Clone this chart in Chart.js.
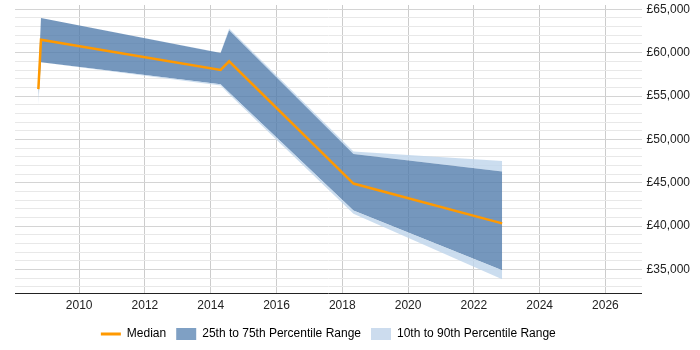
<!DOCTYPE html>
<html>
<head>
<meta charset="utf-8">
<script src="https://cdn.jsdelivr.net/npm/chart.js@4/dist/chart.umd.min.js"></script>
<style>
    html, body { margin: 0; padding: 0; background: #ffffff; }
    #wrap { width: 700px; height: 350px; position: relative; }
</style>
</head>
<body>
<div id="wrap"><canvas id="salary-chart"></canvas></div>
<script>
// Salary percentiles over time
const years = [2008.76, 2008.84, 2014.30, 2014.56, 2018.34, 2022.86];
const median = [55800, 61500, 58000, 59000, 44900, 40300];
const p25 = [54800, 58900, 56350, 55400, 41800, 34900];
const p75 = [57000, 64000, 59950, 62600, 48300, 46300];
const p10 = [54000, 58900, 56200, 55200, 41400, 33850];
const p90 = [57300, 64000, 60000, 62800, 48600, 47500];

// Axis ticks
const xTicks = [2010, 2012, 2014, 2016, 2018, 2020, 2022, 2024, 2026];
const yGridValues = [];
for (let v = 33000; v <= 65000; v += 1000) yGridValues.push(v);
const yLabelStep = 5000;

const fontFamily = '"Liberation Sans", Arial, sans-serif';
const orange = '#ff9900';
const darkBand = 'rgba(78, 122, 170, 0.78)';
const lightBand = 'rgba(190, 212, 235, 0.8)';

function toPoints(values) {
    return years.map((year, i) => ({ x: year, y: values[i] }));
}

function bandDataset(label, values, fillTarget, color) {
    return {
        label: label,
        data: toPoints(values),
        borderWidth: 0,
        borderColor: 'transparent',
        backgroundColor: color,
        pointRadius: 0,
        fill: fillTarget,
        tension: 0,
        order: 1
    };
}

const datasets = [
    bandDataset('p10', p10, false, lightBand),
    bandDataset('p25', p25, 0, lightBand),
    bandDataset('p75', p75, 1, darkBand),
    bandDataset('p90', p90, 2, lightBand),
    {
        label: 'Median',
        data: toPoints(median),
        borderColor: orange,
        backgroundColor: orange,
        borderWidth: 2.5,
        pointRadius: 0,
        fill: false,
        tension: 0,
        order: 0
    }
];

const config = {
    type: 'line',
    data: { datasets: datasets },
    options: {
        responsive: true,
        maintainAspectRatio: false,
        animation: false,
        layout: {
            padding: { left: 15, right: 5, top: 5, bottom: 0 }
        },
        plugins: {
            tooltip: { enabled: false },
            legend: {
                display: true,
                position: 'bottom',
                fullSize: false,
                labels: {
                    color: '#222222',
                    font: { family: fontFamily, size: 12 },
                    usePointStyle: true,
                    pointStyleWidth: 20,
                    boxHeight: 14,
                    padding: 10,
                    generateLabels: function() {
                        return [
                            { text: 'Median', pointStyle: 'line', strokeStyle: orange, fillStyle: orange, lineWidth: 3 },
                            { text: '25th to 75th Percentile Range', pointStyle: 'rect', fillStyle: '#7fa0c4', strokeStyle: '#7fa0c4', lineWidth: 0 },
                            { text: '10th to 90th Percentile Range', pointStyle: 'rect', fillStyle: '#ccdcee', strokeStyle: '#ccdcee', lineWidth: 0 }
                        ];
                    }
                }
            }
        },
        scales: {
            x: {
                type: 'linear',
                min: 2008.05,
                max: 2027.1,
                afterBuildTicks: function(scale) {
                    scale.ticks = xTicks.map(v => ({ value: v }));
                },
                border: { display: true, color: '#222222', width: 1 },
                grid: {
                    color: '#cccccc',
                    drawTicks: false
                },
                ticks: {
                    padding: 5,
                    autoSkip: false,
                    color: '#222222',
                    font: { family: fontFamily, size: 12 },
                    maxRotation: 0,
                    callback: function(value) {
                        return String(value);
                    }
                }
            },
            y: {
                position: 'right',
                min: 32200,
                max: 65500,
                afterBuildTicks: function(scale) {
                    scale.ticks = yGridValues.map(v => ({ value: v }));
                },
                afterFit: function(scale) {
                    // labels may overhang the plot area, like in the original
                    scale.paddingTop = 0;
                    scale.paddingBottom = 0;
                },
                border: { display: false },
                grid: {
                    drawTicks: false,
                    color: function(ctx) {
                        if (!ctx.tick) return '#e6e6e6';
                        return ctx.tick.value % yLabelStep === 0 ? '#d4d4d4' : '#e8e8e8';
                    }
                },
                ticks: {
                    autoSkip: false,
                    padding: 5,
                    color: '#222222',
                    font: { family: fontFamily, size: 12 },
                    callback: function(value) {
                        if (value % yLabelStep !== 0) return '';
                        return '£' + value.toLocaleString('en-GB');
                    }
                }
            }
        }
    }
};

new Chart(document.getElementById('salary-chart'), config);
</script>
</body>
</html>
